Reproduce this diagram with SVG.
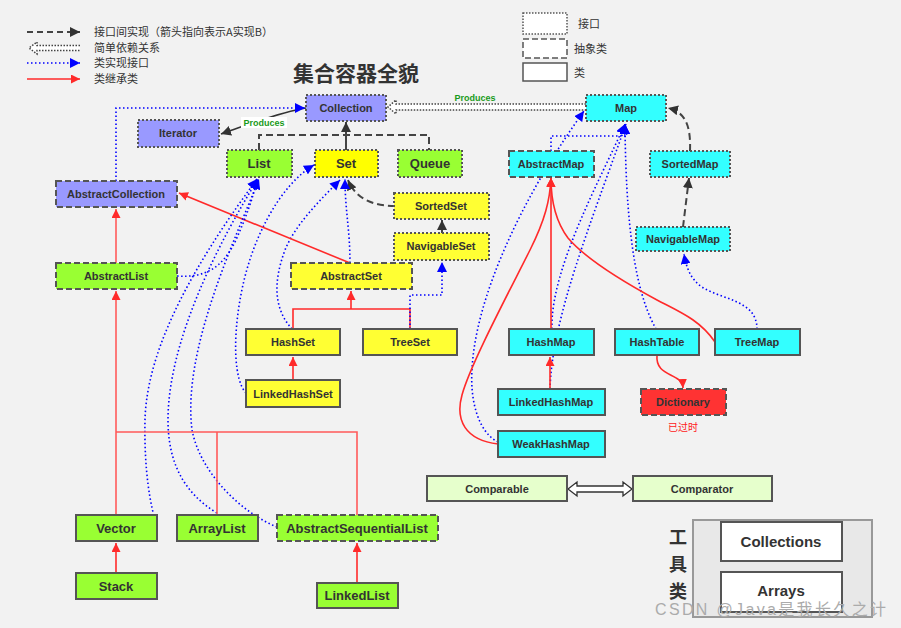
<svg xmlns="http://www.w3.org/2000/svg" width="901" height="628" viewBox="0 0 901 628">
<style>
.n rect{stroke:#555;stroke-width:2}
.dot rect{stroke-dasharray:2,2}
.dash rect{stroke-dasharray:6,3}
.n text{font-family:"Liberation Sans",Arial,sans-serif;font-weight:bold;fill:#333;text-anchor:middle;font-size:11px}
.big text{font-size:13px}
.purple rect{fill:#9999ff}
.green rect{fill:#99ff33}
.yellow rect{fill:#ffff33}
.cyan rect{fill:#33ffff}
.cn{font-family:"Noto Sans CJK SC",sans-serif;fill:#333}
.blue{fill:none;stroke:#0000ff;stroke-width:1.6;stroke-dasharray:1.5,2.5}
.red{fill:none;stroke:#ff2a2a;stroke-width:1.6}
.red2{fill:none;stroke:#ff5a5a;stroke-width:1.6}
.gdash{fill:none;stroke:#444;stroke-width:2;stroke-dasharray:7,4}
.prod{font-family:"Liberation Sans",Arial,sans-serif;font-weight:bold;font-size:9px;fill:#1a9a1a;text-anchor:middle}
</style>
<defs>
<marker id="aR" viewBox="0 0 10 10" refX="10" refY="5" markerWidth="9" markerHeight="9" markerUnits="userSpaceOnUse" orient="auto"><path d="M0,0 L10,5 L0,10 z" fill="#ff2a2a"/></marker>
<marker id="aB" viewBox="0 0 10 10" refX="10" refY="5" markerWidth="10" markerHeight="10" markerUnits="userSpaceOnUse" orient="auto"><path d="M0,0 L10,5 L0,10 z" fill="#0000ff"/></marker>
<marker id="aD" viewBox="0 0 10 10" refX="10" refY="5" markerWidth="10" markerHeight="10" markerUnits="userSpaceOnUse" orient="auto"><path d="M0,0 L10,5 L0,10 z" fill="#333"/></marker>
</defs>
<rect width="901" height="628" fill="#f2f2f2"/>

<g id="legend">
<line x1="27" y1="32" x2="80" y2="32" class="gdash" stroke-width="2" marker-end="url(#aD)" style="stroke-dasharray:6,4"/>
<text x="94" y="36" class="cn" font-size="11">接口间实现（箭头指向表示A实现B）</text>
<path d="M80,45.5 H37 V42 L29,48 L37,54 V50.5 H80" fill="#fff" stroke="#444" stroke-width="1.5" stroke-dasharray="1.5,1.5"/>
<text x="94" y="52" class="cn" font-size="11">简单依赖关系</text>
<line x1="27" y1="63" x2="80" y2="63" class="blue" stroke-width="2" marker-end="url(#aB)"/>
<text x="94" y="67" class="cn" font-size="11">类实现接口</text>
<line x1="27" y1="79" x2="80" y2="79" class="red" stroke-width="2" marker-end="url(#aR)"/>
<text x="94" y="83" class="cn" font-size="11">类继承类</text>
<rect x="523" y="13" width="44" height="21" fill="#fff" stroke="#555" stroke-width="1.5" stroke-dasharray="1.5,1.5"/>
<text x="578" y="28" class="cn" font-size="11">接口</text>
<rect x="523" y="39" width="44" height="19" fill="#fff" stroke="#555" stroke-width="1.5" stroke-dasharray="6,3"/>
<text x="574" y="53" class="cn" font-size="11">抽象类</text>
<rect x="523" y="63" width="44" height="18" fill="#fff" stroke="#555" stroke-width="1.5"/>
<text x="574" y="77" class="cn" font-size="11">类</text>
<text x="356" y="81" class="cn" font-size="21" font-weight="bold" text-anchor="middle">集合容器全貌</text>
</g>

<g id="connectors">
<path d="M306,108 C280,112 250,124 221,134" fill="none" stroke="#333" stroke-width="1.6" marker-end="url(#aD)"/>
<rect x="241" y="117" width="46" height="11" fill="#fff"/>
<text x="264" y="126" class="prod">Produces</text>
<path d="M116,181 V108 H305" class="blue" marker-end="url(#aB)"/>
<path d="M259,150 V135 H429 V150" class="gdash"/>
<path d="M346,150 V122" fill="none" stroke="#444" stroke-width="2" marker-end="url(#aD)"/>
<path d="M586,104 H396 V100 L388,107 L396,114 V110 H586" fill="#fff" stroke="#444" stroke-width="1.5" stroke-dasharray="1.5,1.5"/>
<text x="475" y="101" class="prod">Produces</text>
<path d="M395,206 C375,206 356,200 348,180" class="gdash" marker-end="url(#aD)"/>
<path d="M442,233 V220" fill="none" stroke="#444" stroke-width="2" marker-end="url(#aD)"/>
<path d="M350,263 C350,230 345,210 345,179" class="blue" marker-end="url(#aB)"/>
<path d="M292,329 C275,310 272,285 285,250 C295,225 320,200 340,180" class="blue" marker-end="url(#aB)"/>
<path d="M246,393 C234,380 233,340 240,300 C250,240 280,185 314,165" class="blue" marker-end="url(#aB)"/>
<path d="M293,329 V309 H410 V329" class="red"/>
<path d="M351,309 V291" class="red" marker-end="url(#aR)"/>
<path d="M293,380 V357" class="red" marker-end="url(#aR)"/>
<path d="M410,329 V295 H442 V262" class="blue" marker-end="url(#aB)"/>
<path d="M350,263 L179,193" class="red" marker-end="url(#aR)"/>
<path d="M116,263 V209" class="red2" marker-end="url(#aR)"/>
<path d="M177,276 C205,278 222,268 235,242 C246,218 254,195 257,179" class="blue" marker-end="url(#aB)"/>
<path d="M157,527 C150,505 144,470 145,420 C147,340 205,250 257,179" class="blue" marker-end="url(#aB)"/>
<path d="M217,513 C182,492 168,460 168,420 C168,340 220,240 258,179" class="blue" marker-end="url(#aB)"/>
<path d="M277,527 C240,512 200,472 192,430 C182,350 235,240 259,179" class="blue" marker-end="url(#aB)"/>
<path d="M116,515 V291" class="red2" marker-end="url(#aR)"/>
<path d="M116,432 H357 V515 M217,432 V515" class="red2"/>
<path d="M116,573 V543" class="red" marker-end="url(#aR)"/>
<path d="M357,583 V543" class="red" marker-end="url(#aR)"/>
<path d="M551,151 V136 H625 V124" class="blue" marker-end="url(#aB)"/>
<path d="M498,442 C478,432 470,400 472,370 C475,300 520,200 584,111" class="blue" marker-end="url(#aB)"/>
<path d="M552,329 C550,270 600,180 625,124" class="blue" marker-end="url(#aB)"/>
<path d="M550,389 C552,320 588,230 626,124" class="blue" marker-end="url(#aB)"/>
<path d="M656,329 C640,300 626,250 625,124" class="blue" marker-end="url(#aB)"/>
<path d="M551,329 V178" class="red" marker-end="url(#aR)"/>
<path d="M550,389 V357" class="red" marker-end="url(#aR)"/>
<path d="M498,444 C465,440 455,420 462,395 C470,365 510,290 530,250 C545,220 550,200 551,178" class="red" marker-end="url(#aR)"/>
<path d="M715,342 C700,320 680,312 657,300 C620,280 585,258 568,238 C556,222 551,200 551,178" class="red" marker-end="url(#aR)"/>
<path d="M657,355 C655,378 682,372 683,388" class="red" marker-end="url(#aR)"/>
<path d="M683,227 L689,178" class="gdash" marker-end="url(#aD)"/>
<path d="M690,151 C691,125 685,112 668,108" class="gdash" marker-end="url(#aD)"/>
<path d="M757,329 C757,300 722,300 702,287 C690,279 686,266 684,254" class="blue" marker-end="url(#aB)"/>
<path d="M568,489 L577,482 V486 H623 V482 L632,489 L623,496 V492 H577 V496 Z" fill="#fff" stroke="#333" stroke-width="1.3"/>
</g>

<g id="Collection" class="n dot purple"><rect x="306" y="95" width="80" height="26"/><text x="346" y="112">Collection</text></g>
<g id="Iterator" class="n dot purple"><rect x="138" y="120" width="81" height="27"/><text x="178" y="137">Iterator</text></g>
<g id="List" class="n dot green big"><rect x="227" y="150" width="65" height="27"/><text x="259" y="168">List</text></g>
<g id="Set" class="n dot big"><rect x="315" y="150" width="63" height="27" fill="#ffff00"/><text x="346" y="168">Set</text></g>
<g id="Queue" class="n dot green big"><rect x="398" y="150" width="64" height="27"/><text x="430" y="168">Queue</text></g>
<g id="Map" class="n dot cyan"><rect x="586" y="95" width="80" height="26"/><text x="626" y="112">Map</text></g>
<g id="AbstractMap" class="n dash cyan"><rect x="509" y="151" width="85" height="26"/><text x="551" y="168">AbstractMap</text></g>
<g id="SortedMap" class="n dot cyan"><rect x="650" y="151" width="80" height="26"/><text x="690" y="168">SortedMap</text></g>
<g id="NavigableMap" class="n dot cyan"><rect x="636" y="227" width="94" height="24"/><text x="683" y="243">NavigableMap</text></g>
<g id="AbstractCollection" class="n dash purple"><rect x="56" y="181" width="121" height="26"/><text x="116" y="198">AbstractCollection</text></g>
<g id="AbstractList" class="n dash green"><rect x="56" y="263" width="121" height="26"/><text x="116" y="280">AbstractList</text></g>
<g id="SortedSet" class="n dot yellow"><rect x="394" y="193" width="95" height="26"/><text x="441" y="210">SortedSet</text></g>
<g id="NavigableSet" class="n dot yellow"><rect x="394" y="233" width="95" height="27"/><text x="441" y="250">NavigableSet</text></g>
<g id="AbstractSet" class="n dash yellow"><rect x="291" y="263" width="121" height="26"/><text x="351" y="280">AbstractSet</text></g>
<g id="HashSet" class="n yellow"><rect x="246" y="329" width="94" height="26"/><text x="293" y="346">HashSet</text></g>
<g id="TreeSet" class="n yellow"><rect x="363" y="329" width="94" height="26"/><text x="410" y="346">TreeSet</text></g>
<g id="LinkedHashSet" class="n yellow"><rect x="246" y="380" width="94" height="27"/><text x="293" y="398">LinkedHashSet</text></g>
<g id="HashMap" class="n cyan"><rect x="509" y="329" width="85" height="26"/><text x="551" y="346">HashMap</text></g>
<g id="HashTable" class="n cyan"><rect x="615" y="329" width="84" height="26"/><text x="657" y="346">HashTable</text></g>
<g id="TreeMap" class="n cyan"><rect x="715" y="329" width="85" height="26"/><text x="757" y="346">TreeMap</text></g>
<g id="LinkedHashMap" class="n cyan"><rect x="498" y="389" width="107" height="26"/><text x="551" y="406">LinkedHashMap</text></g>
<g id="Dictionary" class="n dash"><rect x="641" y="389" width="85" height="26" fill="#ff3333"/><text x="683" y="406">Dictionary</text><text x="683" y="431" style="font-family:'Noto Sans CJK SC',sans-serif;font-weight:normal;fill:#ff2020;font-size:10px">已过时</text></g>
<g id="WeakHashMap" class="n cyan"><rect x="498" y="431" width="107" height="26"/><text x="551" y="448">WeakHashMap</text></g>
<g id="Comparable" class="n"><rect x="427" y="476" width="140" height="25" fill="#e6ffcc"/><text x="497" y="493">Comparable</text></g>
<g id="Comparator" class="n"><rect x="633" y="476" width="139" height="25" fill="#e6ffcc"/><text x="702" y="493">Comparator</text></g>
<g id="Vector" class="n green big"><rect x="76" y="515" width="81" height="26"/><text x="116" y="533">Vector</text></g>
<g id="ArrayList" class="n green big"><rect x="177" y="515" width="81" height="26"/><text x="217" y="533">ArrayList</text></g>
<g id="AbstractSequentialList" class="n dash green big"><rect x="277" y="515" width="161" height="26"/><text x="357" y="533">AbstractSequentialList</text></g>
<g id="Stack" class="n green big"><rect x="76" y="573" width="81" height="26"/><text x="116" y="591">Stack</text></g>
<g id="LinkedList" class="n green big"><rect x="317" y="583" width="81" height="25"/><text x="357" y="600">LinkedList</text></g>

<g id="tools">
<rect x="693" y="520" width="179" height="97" fill="#e8e8e8" stroke="#999" stroke-width="2"/>
<text x="678" y="544" class="cn" font-size="18" font-weight="bold" text-anchor="middle">工</text>
<text x="678" y="571" class="cn" font-size="18" font-weight="bold" text-anchor="middle">具</text>
<text x="678" y="598" class="cn" font-size="18" font-weight="bold" text-anchor="middle">类</text>
</g>
<g id="Collections" class="n"><rect x="721" y="522" width="121" height="39" fill="#fff"/><text x="781" y="547" style="font-size:15px">Collections</text></g>
<g id="Arrays" class="n"><rect x="721" y="572" width="121" height="40" fill="#fff"/><text x="781" y="596" style="font-size:15px">Arrays</text></g>
<text x="655" y="615" font-family="'Liberation Sans','Noto Sans CJK SC',sans-serif" font-size="16" fill="#ababab" textLength="231" lengthAdjust="spacing">CSDN @Java是我长久之计</text>
</svg>
